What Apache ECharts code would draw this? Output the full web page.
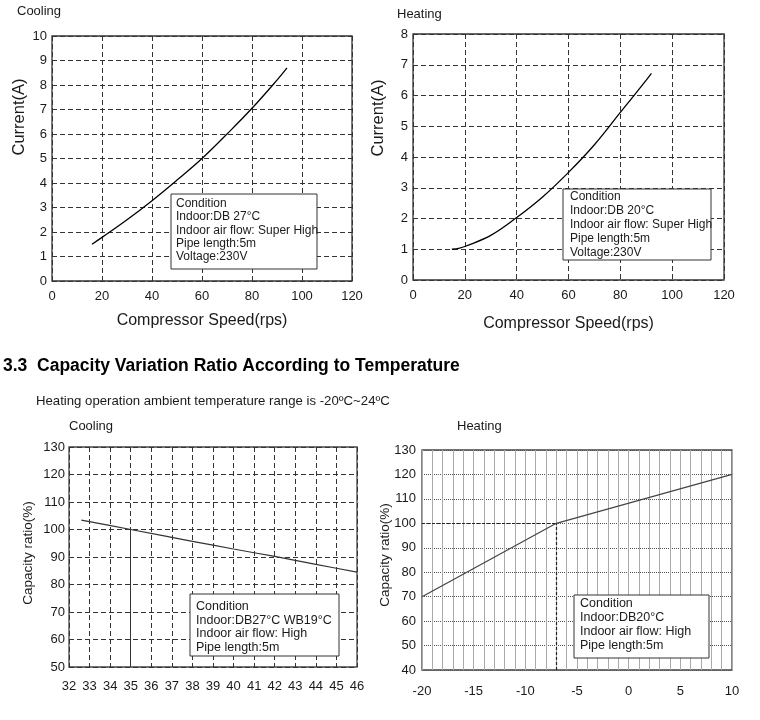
<!DOCTYPE html>
<html>
<head>
<meta charset="utf-8">
<script src="https://cdn.jsdelivr.net/npm/echarts@6/dist/echarts.min.js"></script>
<style>html,body{margin:0;padding:0;background:#fff}#c{width:760px;height:720px}</style>
</head>
<body>
<div id="c"></div>
<script>
// ---- Data ----
var coolSpeed   = [16, 20, 30, 40, 50, 60, 70, 80, 90, 94];
var coolCurrent = [1.5, 1.78, 2.5, 3.28, 4.12, 5, 6, 7.05, 8.2, 8.7];
var heatSpeed   = [15, 18, 20, 30, 40, 50, 60, 70, 80, 90, 92];
var heatCurrent = [1, 1.04, 1.09, 1.45, 2.03, 2.7, 3.5, 4.4, 5.45, 6.5, 6.72];
var coolTemp    = [32.6, 35, 38, 40, 42, 44, 46];
var coolRatio   = [103.4, 100, 95.7, 92.9, 90.2, 87.3, 84.5];
var heatTemp    = [-20, -7, 10];
var heatRatio   = [70, 100, 120];
var coolRef     = [35, 100];
var heatRef     = [-7, 100];
var condCoolCur = ['Condition', 'Indoor:DB 27\u00B0C', 'Indoor air flow: Super High', 'Pipe length:5m', 'Voltage:230V'];
var condHeatCur = ['Condition', 'Indoor:DB 20\u00B0C', 'Indoor air flow: Super High', 'Pipe length:5m', 'Voltage:230V'];
var condCoolCap = ['Condition', 'Indoor:DB27\u00B0C WB19\u00B0C', 'Indoor air flow: High', 'Pipe length:5m'];
var condHeatCap = ['Condition', 'Indoor:DB20\u00B0C', 'Indoor air flow: High', 'Pipe length:5m'];

function zip(a, b) { return a.map(function (v, i) { return [v, b[i]]; }); }

var FONT = '"Liberation Sans", Arial, Helvetica, sans-serif';
var TXT = '#1a1a1a';
var dashGrid = { show: true, lineStyle: { color: '#333', width: 1, type: [5, 3] } };

function box(x, y, w, h, lines, fs, lh, tx, ty) {
  var els = [{ type: 'rect', z: 100, shape: { x: x, y: y, width: w, height: h },
    style: { fill: '#ffffff', stroke: '#333', lineWidth: 1 } }];
  lines.forEach(function (t, i) {
    els.push({ type: 'text', z: 101, x: tx, y: ty + i * lh,
      style: { text: t, font: fs + 'px ' + FONT, fill: TXT,
        textAlign: 'left', textVerticalAlign: 'middle', align: 'left', verticalAlign: 'middle' } });
  });
  return els;
}
function label(x, y, text, fs, bold, rot) {
  return { type: 'text', x: x, y: y, rotation: rot ? Math.PI / 2 : 0, z: 100,
    style: { text: text, font: (bold ? 'bold ' : '') + fs + 'px ' + FONT, fill: bold ? '#000' : TXT,
      textAlign: rot ? 'center' : 'left', align: rot ? 'center' : 'left',
      textVerticalAlign: 'middle', verticalAlign: 'middle' } };
}

var axLabel = { color: TXT, fontSize: 13, fontFamily: FONT };

var graphics = [
  label(17, 11, 'Cooling', 13),
  label(397, 14, 'Heating', 13),
  label(19, 117, 'Current(A)', 16.5, false, true),
  label(378, 118, 'Current(A)', 16.5, false, true),
  label(3, 366, '3.3  Capacity Variation Ratio According to Temperature', 17.5, true),
  label(36, 401, 'Heating operation ambient temperature range is -20\u00BAC~24\u00BAC', 13.2),
  label(69, 426, 'Cooling', 13),
  label(457, 426, 'Heating', 13),
  label(28, 553, 'Capacity ratio(%)', 13.5, false, true),
  label(385, 555, 'Capacity ratio(%)', 13.5, false, true)
].concat(
  box(171, 194, 146, 75, condCoolCur, 12, 13.4, 176, 203.5),
  box(563, 189, 148, 71, condHeatCur, 12, 14, 570, 197),
  box(190, 594, 149, 62, condCoolCap, 12.5, 13.6, 196, 606.5),
  box(574, 595, 135, 63, condHeatCap, 12.5, 13.9, 580, 603.5)
);

var chart = echarts.init(document.getElementById('c'));
chart.setOption({
  animation: false,
  backgroundColor: '#fff',
  grid: [
    { left: 52, top: 36, width: 300, height: 245, show: true, borderColor: '#333', borderWidth: 1.3 },
    { left: 413, top: 34, width: 311, height: 246, show: true, borderColor: '#333', borderWidth: 1.3 },
    { left: 69, top: 447, width: 288, height: 220, show: true, borderColor: '#444', borderWidth: 1.3 },
    { left: 422, top: 450, width: 310, height: 220, show: true, borderColor: '#444', borderWidth: 1.3 }
  ],
  xAxis: [
    { gridIndex: 0, type: 'value', min: 0, max: 120, interval: 20,
      name: 'Compressor Speed(rps)', nameLocation: 'middle', nameGap: 32,
      nameTextStyle: { color: TXT, fontSize: 16, fontFamily: FONT },
      axisLine: { show: false }, axisTick: { show: false },
      axisLabel: Object.assign({ margin: 9 }, axLabel), splitLine: dashGrid },
    { gridIndex: 1, type: 'value', min: 0, max: 120, interval: 20,
      name: 'Compressor Speed(rps)', nameLocation: 'middle', nameGap: 36,
      nameTextStyle: { color: TXT, fontSize: 16, fontFamily: FONT },
      axisLine: { show: false }, axisTick: { show: false },
      axisLabel: Object.assign({ margin: 9 }, axLabel), splitLine: dashGrid },
    { gridIndex: 2, type: 'value', min: 32, max: 46, interval: 1,
      axisLine: { show: false }, axisTick: { show: false },
      axisLabel: Object.assign({ margin: 13 }, axLabel), splitLine: dashGrid },
    { gridIndex: 3, type: 'value', min: -20, max: 10, interval: 1,
      axisLine: { show: false }, axisTick: { show: false },
      axisLabel: Object.assign({ margin: 15, formatter: function (v) { return v % 5 === 0 ? String(v) : ''; } }, axLabel),
      splitLine: { show: true, lineStyle: { color: '#aaa', width: 1, type: 'solid' } } }
  ],
  yAxis: [
    { gridIndex: 0, type: 'value', min: 0, max: 10, interval: 1,
      axisLine: { show: false }, axisTick: { show: false },
      axisLabel: Object.assign({ margin: 5 }, axLabel), splitLine: dashGrid },
    { gridIndex: 1, type: 'value', min: 0, max: 8, interval: 1,
      axisLine: { show: false }, axisTick: { show: false },
      axisLabel: Object.assign({ margin: 5 }, axLabel), splitLine: dashGrid },
    { gridIndex: 2, type: 'value', min: 50, max: 130, interval: 10,
      axisLine: { show: false }, axisTick: { show: false },
      axisLabel: Object.assign({ margin: 4 }, axLabel), splitLine: dashGrid },
    { gridIndex: 3, type: 'value', min: 40, max: 130, interval: 10,
      axisLine: { show: false }, axisTick: { show: false },
      axisLabel: Object.assign({ margin: 6 }, axLabel),
      splitLine: { show: true, lineStyle: { color: '#555', width: 1, type: 'dotted' } } }
  ],
  series: [
    { type: 'line', xAxisIndex: 0, yAxisIndex: 0, data: zip(coolSpeed, coolCurrent), smooth: 0.4,
      showSymbol: false, lineStyle: { color: '#000', width: 1.3 } },
    { type: 'line', xAxisIndex: 1, yAxisIndex: 1, data: zip(heatSpeed, heatCurrent), smooth: 0.4,
      showSymbol: false, lineStyle: { color: '#000', width: 1.3 } },
    { type: 'line', xAxisIndex: 2, yAxisIndex: 2, data: zip(coolTemp, coolRatio), smooth: 0.3,
      showSymbol: false, lineStyle: { color: '#333', width: 1.2 },
      markLine: { silent: true, symbol: 'none', label: { show: false },
        lineStyle: { color: '#333', width: 1, type: 'solid' },
        data: [[{ coord: [coolRef[0], 50] }, { coord: [coolRef[0], coolRef[1]] }]] } },
    { type: 'line', xAxisIndex: 3, yAxisIndex: 3, data: zip(heatTemp, heatRatio),
      showSymbol: false, lineStyle: { color: '#444', width: 1.2 },
      markLine: { silent: true, symbol: 'none', label: { show: false },
        lineStyle: { color: '#222', width: 1.2, type: [3, 2] },
        data: [
          [{ coord: [-20, heatRef[1]] }, { coord: [heatRef[0], heatRef[1]] }],
          [{ coord: [heatRef[0], 40] }, { coord: [heatRef[0], heatRef[1]] }]
        ] } }
  ],
  graphic: graphics
});
</script>
</body>
</html>
